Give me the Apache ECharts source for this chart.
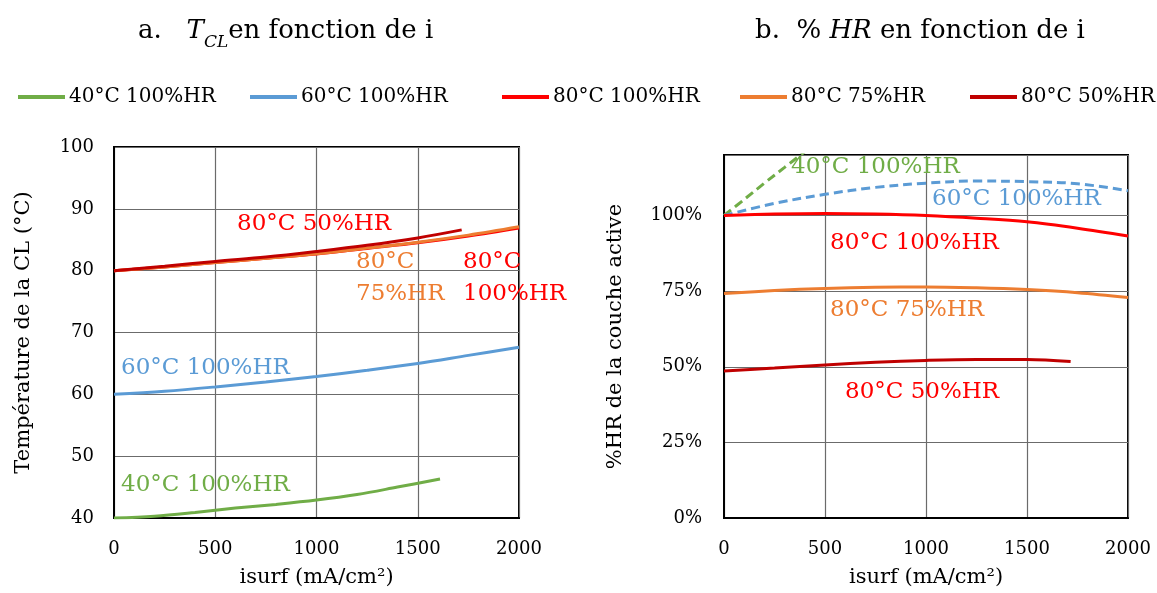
<!DOCTYPE html>
<html>
<head>
<meta charset="utf-8">
<script src="https://cdn.jsdelivr.net/npm/echarts@6/dist/echarts.min.js"></script>
<style>html,body{margin:0;padding:0;background:#fff}#c{width:1157px;height:593px}</style>
</head>
<body>
<div id="c"></div>
<script>
// ---- Data ----
const seriesNames = ['40°C 100%HR', '60°C 100%HR', '80°C 100%HR', '80°C 75%HR', '80°C 50%HR'];

// a. T_CL (°C) vs isurf (mA/cm²)
const tcl40x = [0, 200, 400, 600, 800, 1000, 1200, 1400, 1610];
const tcl40y = [40.0, 40.3, 40.9, 41.6, 42.2, 42.9, 43.8, 45.0, 46.3];
const tcl60x = [0, 250, 500, 750, 1000, 1250, 1500, 1750, 2000];
const tcl60y = [60.0, 60.5, 61.2, 62.0, 62.9, 63.9, 65.0, 66.3, 67.6];
const tcl80x = [0, 250, 500, 750, 1000, 1250, 1500, 1750, 2000];
const tcl80h100y = [80.0, 80.6, 81.3, 82.0, 82.7, 83.6, 84.5, 85.6, 86.9];
const tcl80h75y = [80.0, 80.6, 81.3, 82.0, 82.75, 83.65, 84.6, 85.75, 87.1];
const tcl80h50x = [0, 250, 500, 750, 1000, 1250, 1500, 1717];
const tcl80h50y = [80.0, 80.7, 81.5, 82.2, 83.1, 84.1, 85.3, 86.6];

// b. %HR of active layer vs isurf
const hr40x = [0, 100, 200, 300, 400];
const hr40y = [100, 105.3, 110.7, 115.9, 121.1];
const hr60x = [0, 250, 500, 750, 1000, 1250, 1500, 1750, 2000];
const hr60y = [100, 104, 107, 109.3, 110.7, 111.4, 111.2, 110.5, 108.2];
const hr80x = [0, 250, 500, 750, 1000, 1250, 1500, 1750, 2000];
const hr80h100y = [100, 100.5, 100.7, 100.5, 100.0, 99.1, 97.9, 95.8, 93.2];
const hr80h75y = [74.2, 75.2, 75.9, 76.3, 76.4, 76.1, 75.5, 74.5, 72.9];
const hr80h50x = [0, 250, 500, 750, 1000, 1250, 1500, 1716];
const hr80h50y = [48.6, 49.6, 50.6, 51.5, 52.1, 52.4, 52.4, 51.7];

const xTicks = {min: 0, max: 2000, interval: 500};
const yTicksA = {min: 40, max: 100, interval: 10};
const yTicksB = {min: 0, max: 120, interval: 25};

// ---- Helpers ----
const pairs = (xs, ys) => xs.map((x, i) => [x, ys[i]]);
const colors = ['#70AD47', '#5B9BD5', '#FF0000', '#ED7D31', '#C00000'];
const FONT = '"DejaVu Serif", serif';

function mkSeries(name, color, data, idx, dashed) {
  return {
    name: name, type: 'line', data: data, xAxisIndex: idx, yAxisIndex: idx,
    symbol: 'none', showSymbol: false, smooth: 0.35, color: color,
    itemStyle: {color: color},
    lineStyle: {color: color, width: 3, type: dashed ? [9, 5] : 'solid'},
    z: 3
  };
}

function xAxis(idx) {
  return {
    type: 'value', gridIndex: idx, min: xTicks.min, max: xTicks.max, interval: xTicks.interval,
    name: 'isurf (mA/cm²)', nameLocation: 'middle', nameGap: 49,
    nameTextStyle: {fontFamily: FONT, fontSize: 21, color: '#000'},
    axisLine: {show: true, onZero: false, lineStyle: {color: '#000', width: 2}},
    axisTick: {show: false},
    axisLabel: {fontFamily: FONT, fontSize: 18, color: '#000', margin: 22, formatter: v => String(v)},
    splitLine: {show: true, lineStyle: {color: '#6b6b6b', width: 1.2}}
  };
}

const chart = echarts.init(document.getElementById('c'), null, {renderer: 'canvas'});

const legendLefts = [13, 245, 497, 735, 965];

const option = {
  animation: false,
  backgroundColor: '#fff',
  title: [
    {
      left: 133, top: 6,
      text: '{n|a.   }{it|T}{sub|CL}{n|en fonction de i}',
      textStyle: {
        fontWeight: 'normal',
        rich: {
          n: {fontFamily: FONT, fontSize: 26, fontWeight: 'normal', color: '#000', lineHeight: 40, verticalAlign: 'middle'},
          it: {fontFamily: FONT, fontSize: 26, fontWeight: 'normal', fontStyle: 'italic', color: '#000', lineHeight: 40, verticalAlign: 'middle'},
          sub: {fontFamily: FONT, fontSize: 17, fontWeight: 'normal', fontStyle: 'italic', color: '#000', lineHeight: 32, verticalAlign: 'bottom'}
        }
      }
    },
    {
      left: 750, top: 6,
      text: '{n|b.  % }{it|HR}{n| en fonction de i}',
      textStyle: {
        fontWeight: 'normal',
        rich: {
          n: {fontFamily: FONT, fontSize: 26, fontWeight: 'normal', color: '#000', lineHeight: 40, verticalAlign: 'middle'},
          it: {fontFamily: FONT, fontSize: 26, fontWeight: 'normal', fontStyle: 'italic', color: '#000', lineHeight: 40, verticalAlign: 'middle'}
        }
      }
    }
  ],
  legend: seriesNames.map((n, i) => ({
    data: [{name: n, icon: 'rect'}], left: legendLefts[i], top: 82,
    itemWidth: 47, itemHeight: 4, itemGap: 4,
    textStyle: {fontFamily: FONT, fontSize: 20, color: '#000', padding: [0, 0, 0, -1]},
    selectedMode: false
  })),
  grid: [
    {left: 114, right: 638, top: 147, bottom: 75, show: true, borderColor: '#000', borderWidth: 2, backgroundColor: 'transparent'},
    {left: 724, right: 29, top: 155, bottom: 75, show: true, borderColor: '#000', borderWidth: 2, backgroundColor: 'transparent'}
  ],
  xAxis: [xAxis(0), xAxis(1)],
  yAxis: [
    {
      type: 'value', gridIndex: 0, min: yTicksA.min, max: yTicksA.max, interval: yTicksA.interval,
      name: 'Température de la CL (°C)', nameLocation: 'middle', nameGap: 80,
      nameTextStyle: {fontFamily: FONT, fontSize: 21, color: '#000'},
      axisLine: {show: true, lineStyle: {color: '#000', width: 2}},
      axisTick: {show: false},
      axisLabel: {fontFamily: FONT, fontSize: 18, color: '#000', margin: 20},
      splitLine: {show: true, lineStyle: {color: '#6b6b6b', width: 1.2}}
    },
    {
      type: 'value', gridIndex: 1, min: yTicksB.min, max: yTicksB.max, interval: yTicksB.interval,
      name: '%HR de la couche active', nameLocation: 'middle', nameGap: 98,
      nameTextStyle: {fontFamily: FONT, fontSize: 21, color: '#000'},
      axisLine: {show: true, lineStyle: {color: '#000', width: 2}},
      axisTick: {show: false},
      axisLabel: {fontFamily: FONT, fontSize: 18, color: '#000', margin: 22,
        formatter: v => (v > 100 ? '' : v + '%')},
      splitLine: {show: true, lineStyle: {color: '#6b6b6b', width: 1.2}}
    }
  ],
  series: [
    mkSeries(seriesNames[0], colors[0], pairs(tcl40x, tcl40y), 0, false),
    mkSeries(seriesNames[1], colors[1], pairs(tcl60x, tcl60y), 0, false),
    mkSeries(seriesNames[2], colors[2], pairs(tcl80x, tcl80h100y), 0, false),
    mkSeries(seriesNames[3], colors[3], pairs(tcl80x, tcl80h75y), 0, false),
    mkSeries(seriesNames[4], colors[4], pairs(tcl80h50x, tcl80h50y), 0, false),
    mkSeries(seriesNames[0], colors[0], pairs(hr40x, hr40y), 1, true),
    mkSeries(seriesNames[1], colors[1], pairs(hr60x, hr60y), 1, true),
    mkSeries(seriesNames[2], colors[2], pairs(hr80x, hr80h100y), 1, false),
    mkSeries(seriesNames[3], colors[3], pairs(hr80x, hr80h75y), 1, false),
    mkSeries(seriesNames[4], colors[4], pairs(hr80h50x, hr80h50y), 1, false)
  ],
  graphic: [
    // annotations, chart a
    {type: 'text', x: 237, y: 224, z: 10, style: {text: '80°C 50%HR', fill: '#FF0000', font: '23px ' + FONT, verticalAlign: 'middle'}},
    {type: 'text', x: 356, y: 262, z: 10, style: {text: '80°C', fill: '#ED7D31', font: '23px ' + FONT, verticalAlign: 'middle'}},
    {type: 'text', x: 356, y: 294, z: 10, style: {text: '75%HR', fill: '#ED7D31', font: '23px ' + FONT, verticalAlign: 'middle'}},
    {type: 'text', x: 463, y: 262, z: 10, style: {text: '80°C', fill: '#FF0000', font: '23px ' + FONT, verticalAlign: 'middle'}},
    {type: 'text', x: 463, y: 294, z: 10, style: {text: '100%HR', fill: '#FF0000', font: '23px ' + FONT, verticalAlign: 'middle'}},
    {type: 'text', x: 121, y: 368, z: 10, style: {text: '60°C 100%HR', fill: '#5B9BD5', font: '23px ' + FONT, verticalAlign: 'middle'}},
    {type: 'text', x: 121, y: 485, z: 10, style: {text: '40°C 100%HR', fill: '#70AD47', font: '23px ' + FONT, verticalAlign: 'middle'}},
    // annotations, chart b
    {type: 'text', x: 791, y: 167, z: 10, style: {text: '40°C 100%HR', fill: '#70AD47', font: '23px ' + FONT, verticalAlign: 'middle'}},
    {type: 'text', x: 932, y: 199, z: 10, style: {text: '60°C 100%HR', fill: '#5B9BD5', font: '23px ' + FONT, verticalAlign: 'middle'}},
    {type: 'text', x: 830, y: 243, z: 10, style: {text: '80°C 100%HR', fill: '#FF0000', font: '23px ' + FONT, verticalAlign: 'middle'}},
    {type: 'text', x: 830, y: 310, z: 10, style: {text: '80°C 75%HR', fill: '#ED7D31', font: '23px ' + FONT, verticalAlign: 'middle'}},
    {type: 'text', x: 845, y: 392, z: 10, style: {text: '80°C 50%HR', fill: '#FF0000', font: '23px ' + FONT, verticalAlign: 'middle'}}
  ]
};

chart.setOption(option);
</script>
</body>
</html>
